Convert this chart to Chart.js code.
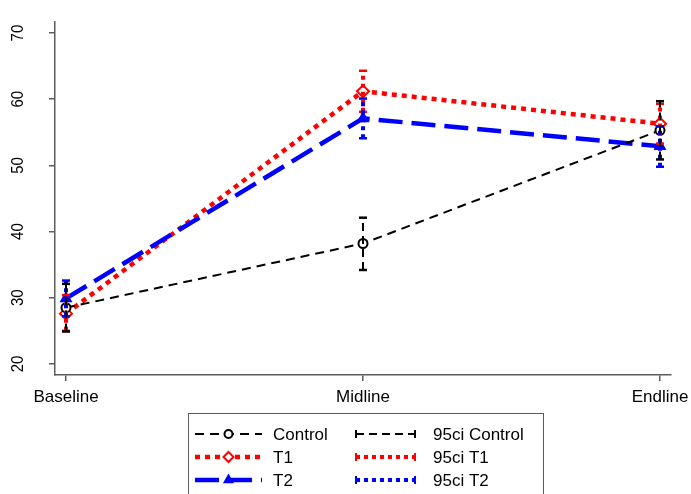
<!DOCTYPE html>
<html>
<head>
<meta charset="utf-8">
<script src="https://cdn.jsdelivr.net/npm/chart.js@4.4.1/dist/chart.umd.min.js"></script>
<style>
  html, body { margin: 0; padding: 0; background: #fff; }
  #wrap { width: 691px; height: 494px; position: relative; }
</style>
</head>
<body>
<div id="wrap"><canvas id="c" width="691" height="494"></canvas></div>
<script>
// Survey rounds and group means with 95% confidence bounds
const categories = ['Baseline', 'Midline', 'Endline'];
const controlMean = [28.5, 38.2, 55.3];
const controlLo   = [24.9, 34.2, 50.9];
const controlHi   = [32.1, 42.1, 59.7];
const t1Mean = [27.6, 61.2, 56.3];
const t1Lo   = [25.0, 58.1, 53.3];
const t1Hi   = [30.4, 64.3, 59.3];
const t2Mean = [29.9, 57.1, 52.9];
const t2Lo   = [27.2, 54.1, 49.8];
const t2Hi   = [32.6, 60.1, 55.9];
const yTicks = [20, 30, 40, 50, 60, 70];
const legendLabels = ['Control', 'T1', 'T2', '95ci Control', '95ci T1', '95ci T2'];

const FONT = '"Liberation Sans", Arial, Helvetica, sans-serif';
const AXIS = '#5c5c5c';

const styles = {
  control: { color: '#000000', width: 2, dash: [9, 6], point: 'circle', radius: 4.5, legendRadius: 4, fill: '#ffffff' },
  t1:      { color: '#ff0000', width: 4.5, dash: [5, 5], point: 'rectRot', radius: 6, legendRadius: 5, fill: '#ffffff' },
  t2:      { color: '#0000ff', width: 4.5, dash: [24, 9], point: 'triangle', radius: 5.5, legendRadius: 4.5, fill: '#0000ff' },
  ciControl: { color: '#000000', width: 2, dash: [8, 5] },
  ciT1:      { color: '#ff0000', width: 4, dash: [4, 4] },
  ciT2:      { color: '#0000ff', width: 4, dash: [4, 4] }
};

function meanPoints(vals) {
  return vals.map((v, i) => ({ x: i, y: v }));
}
// vertical interval segments, separated by gaps
function ciPoints(lo, hi) {
  const pts = [];
  lo.forEach((l, i) => {
    pts.push({ x: i, y: l }, { x: i, y: hi[i] }, { x: i, y: null });
  });
  return pts;
}
function meanDataset(vals, s) {
  return {
    data: meanPoints(vals),
    borderColor: s.color, borderWidth: s.width, borderDash: s.dash,
    pointStyle: s.point, pointRadius: s.radius, pointBorderWidth: 2,
    pointBorderColor: s.color, pointBackgroundColor: s.fill,
    tension: 0, fill: false
  };
}
function ciDataset(lo, hi, s) {
  return {
    data: ciPoints(lo, hi),
    borderColor: s.color, borderWidth: s.width, borderDash: s.dash,
    pointStyle: 'line', pointRadius: 4, pointBorderWidth: 2.5,
    pointBorderColor: s.color, spanGaps: false, tension: 0, fill: false
  };
}

// vertical y tick labels, centred on each tick
const yLabelPlugin = {
  id: 'yLabels',
  afterDraw(chart) {
    const ctx = chart.ctx;
    const ys = chart.scales.y;
    ctx.save();
    ctx.fillStyle = '#000';
    ctx.font = '15px ' + FONT;
    ctx.textAlign = 'center';
    ctx.textBaseline = 'middle';
    ys.ticks.forEach(t => {
      const py = ys.getPixelForValue(t.value);
      ctx.save();
      ctx.translate(18, py);
      ctx.rotate(-Math.PI / 2);
      ctx.scale(1, 1.15);
      ctx.fillText(String(t.value), 0, 0);
      ctx.restore();
    });
    ctx.restore();
  }
};

const legendPlugin = {
  id: 'boxLegend',
  afterDraw(chart) {
    const ctx = chart.ctx;
    ctx.save();
    ctx.strokeStyle = AXIS;
    ctx.lineWidth = 1;
    ctx.strokeRect(188.5, 413.5, 355, 90);
    const rows = [434, 457, 480];
    const entries = [
      { s: styles.control, x0: 195, x1: 262, tx: 273, marker: true },
      { s: styles.t1, x0: 195, x1: 262, tx: 273, marker: true },
      { s: styles.t2, x0: 195, x1: 262, tx: 273, marker: true },
      { s: styles.ciControl, x0: 356, x1: 415, tx: 433, caps: true },
      { s: styles.ciT1, x0: 356, x1: 415, tx: 433, caps: true },
      { s: styles.ciT2, x0: 356, x1: 415, tx: 433, caps: true }
    ];
    entries.forEach((e, i) => {
      const y = rows[i % 3];
      ctx.strokeStyle = e.s.color;
      ctx.lineWidth = e.s.width;
      ctx.setLineDash(e.s.dash);
      ctx.beginPath();
      ctx.moveTo(e.x0, y);
      ctx.lineTo(e.x1, y);
      ctx.stroke();
      ctx.setLineDash([]);
      if (e.marker) {
        ctx.fillStyle = e.s.fill;
        ctx.strokeStyle = e.s.color;
        ctx.lineWidth = 2;
        Chart.helpers.drawPoint(ctx, {
          pointStyle: e.s.point, radius: e.s.legendRadius, borderWidth: 2, rotation: 0
        }, (e.x0 + e.x1) / 2, y);
      }
      if (e.caps) {
        ctx.lineWidth = 2;
        [e.x0, e.x1].forEach(cx => {
          ctx.beginPath();
          ctx.moveTo(cx, y - 4);
          ctx.lineTo(cx, y + 4);
          ctx.stroke();
        });
      }
      ctx.fillStyle = '#000';
      ctx.font = '17px ' + FONT;
      ctx.textBaseline = 'middle';
      ctx.textAlign = 'left';
      ctx.fillText(legendLabels[i], e.tx, y + 1);
    });
    ctx.restore();
  }
};

new Chart(document.getElementById('c'), {
  type: 'line',
  data: {
    datasets: [
      ciDataset(controlLo, controlHi, styles.ciControl),
      ciDataset(t2Lo, t2Hi, styles.ciT2),
      ciDataset(t1Lo, t1Hi, styles.ciT1),
      meanDataset(controlMean, styles.control),
      meanDataset(t2Mean, styles.t2),
      meanDataset(t1Mean, styles.t1)
    ]
  },
  options: {
    responsive: false,
    animation: false,
    events: [],
    layout: { padding: { top: 22, right: 20, bottom: 80, left: 0 } },
    plugins: { legend: { display: false }, tooltip: { enabled: false } },
    scales: {
      x: {
        type: 'linear',
        min: -0.037, max: 2.037,
        afterBuildTicks(scale) { scale.ticks = categories.map((c, i) => ({ value: i })); },
        afterFit(scale) { scale.height = 39; scale.paddingLeft = 0; scale.paddingRight = 0; },
        ticks: {
          callback: v => categories[v],
          color: '#000', font: { family: FONT, size: 17 }, padding: 6,
          maxRotation: 0, minRotation: 0
        },
        grid: { drawOnChartArea: false, tickLength: 6, color: AXIS, lineWidth: 1.5 },
        border: { display: true, color: AXIS, width: 1.5 }
      },
      y: {
        min: 18.33, max: 71.67,
        afterBuildTicks(scale) { scale.ticks = yTicks.map(v => ({ value: v })); },
        afterFit(scale) { scale.width = 55; scale.paddingTop = 0; scale.paddingBottom = 0; },
        ticks: { display: false },
        grid: { drawOnChartArea: false, tickLength: 6, color: AXIS, lineWidth: 1.5 },
        border: { display: true, color: AXIS, width: 1.5 }
      }
    }
  },
  plugins: [legendPlugin, yLabelPlugin]
});
</script>
</body>
</html>
